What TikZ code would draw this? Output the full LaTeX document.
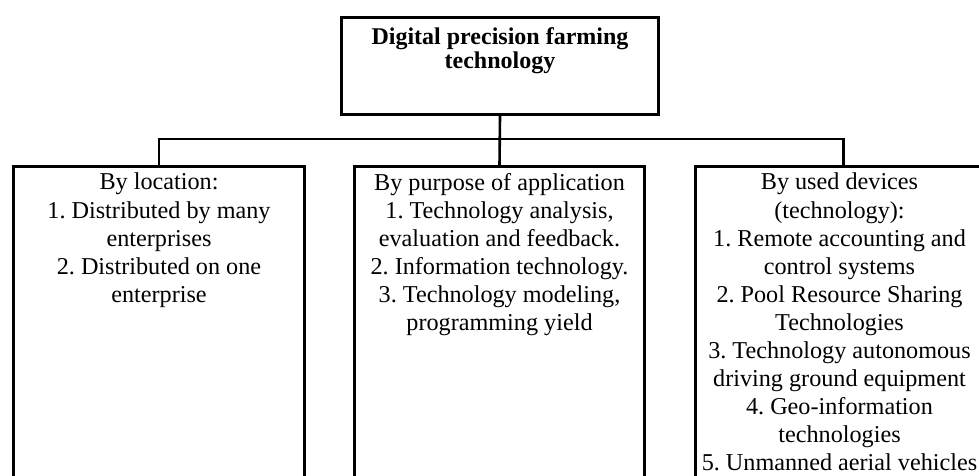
\documentclass[tikz,border=0pt]{standalone}
\usepackage{fontspec}
\setmainfont{Liberation Serif}
\frenchspacing
\begin{document}
\begin{tikzpicture}[x=1pt,y=1pt,
  frame/.style={draw, line width=3pt, inner sep=0pt, anchor=north west},
  conn/.style={line width=2.6pt},
  txt/.style={align=center, font=\fontsize{24.2}{28.1}\selectfont, inner sep=0pt, anchor=north},
  ttl/.style={align=center, font=\fontsize{24}{24.5}\selectfont\bfseries, inner sep=0pt, anchor=north}]
\clip (0,0) rectangle (979,-476);
\fill[white] (0,0) rectangle (979,-476);
\node[frame, minimum width=317pt, minimum height=97pt] (top) at (340,-16) {};
\node[ttl] (toptxt) at ([yshift=-11pt]top.north) {Digital precision farming\\technology};
\node[frame, minimum width=291pt, minimum height=400pt] (left) at (12,-165) {};
\node[frame, minimum width=290pt, minimum height=400pt] (mid) at (353,-165) {};
\node[frame, minimum width=296pt, minimum height=400pt] (right) at (694,-165) {};
\node[txt] (lefttxt) at ([yshift=-8pt]left.north) {By location:\\1. Distributed by many\\enterprises\\2. Distributed on one\\enterprise};
\node[txt] (midtxt) at ([yshift=-8pt]mid.north) {By purpose of application\\1. Technology analysis,\\evaluation and feedback.\\2. Information technology.\\3. Technology modeling,\\programming yield};
\node[txt] (righttxt) at ([xshift=-4pt,yshift=-8pt]right.north) {By used devices\\(technology):\\1. Remote accounting and\\control systems\\2. Pool Resource Sharing\\Technologies\\3. Technology autonomous\\driving ground equipment\\4. Geo-information\\technologies\\5. Unmanned aerial vehicles};
\coordinate (bus) at (0,-139);
\draw[conn] (top.south) -- (mid.north);
\draw[conn] (left.north) -- (left.north |- bus) -- (right.north |- bus) -- (right.north);
\end{tikzpicture}
\end{document}
